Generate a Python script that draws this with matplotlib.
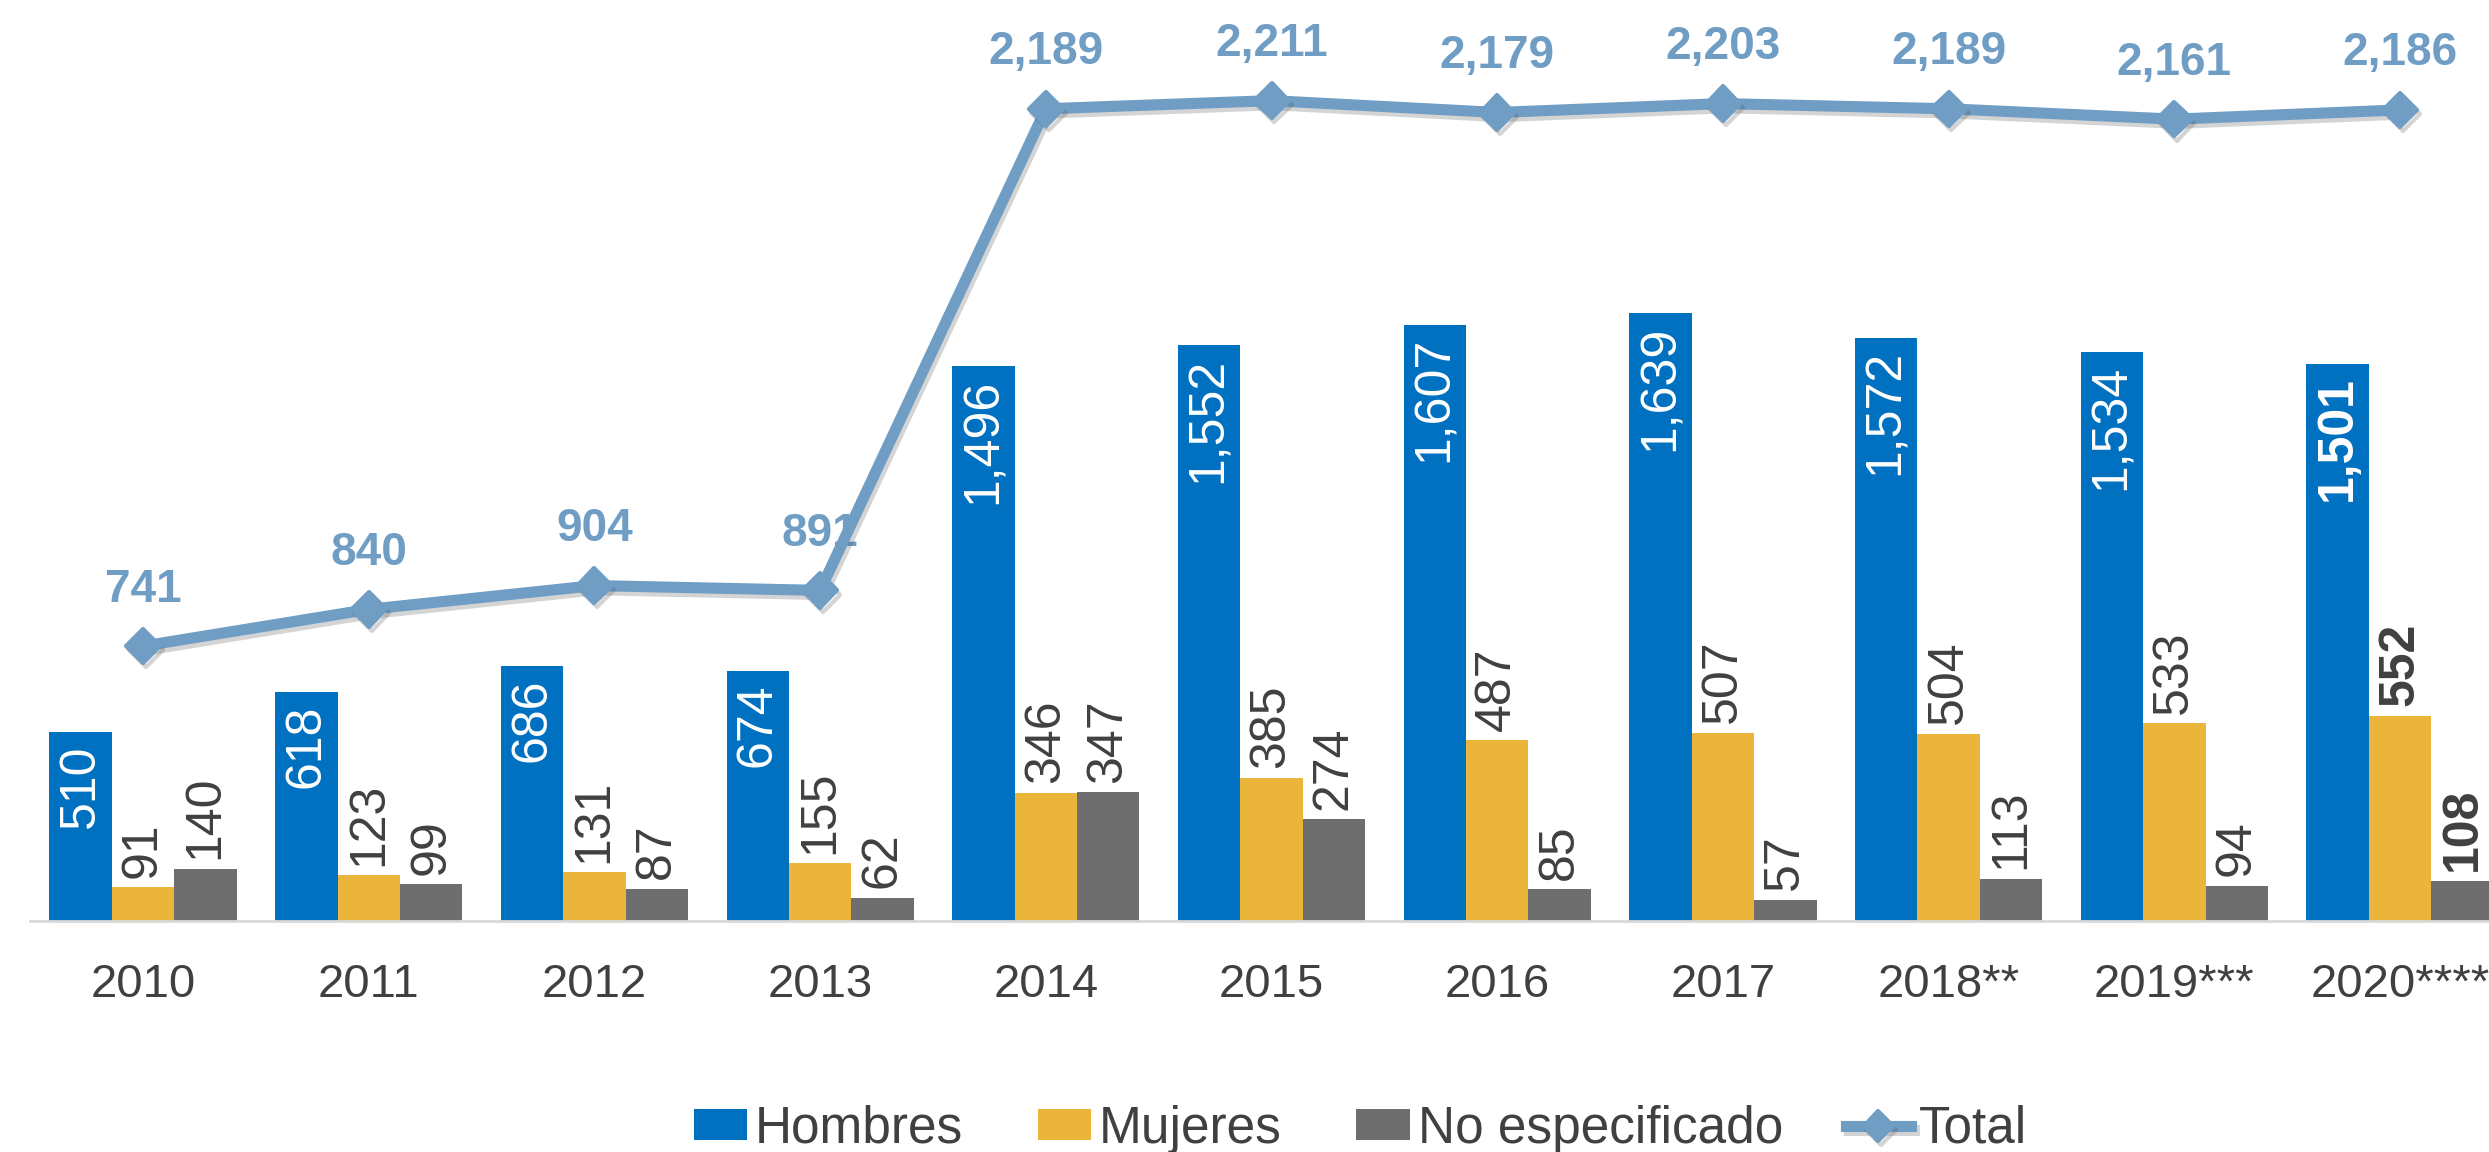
import matplotlib
matplotlib.use('Agg')
import matplotlib.pyplot as plt
import matplotlib.patheffects as pe
from matplotlib.legend_handler import HandlerLine2D
from matplotlib.markers import MarkerStyle
import numpy as np

plt.rcParams['font.family'] = ['Liberation Sans', 'DejaVu Sans']

years = ['2010', '2011', '2012', '2013', '2014', '2015', '2016', '2017',
         '2018**', '2019***', '2020****']
hombres = [510, 618, 686, 674, 1496, 1552, 1607, 1639, 1572, 1534, 1501]
mujeres = [91, 123, 131, 155, 346, 385, 487, 507, 504, 533, 552]
no_esp = [140, 99, 87, 62, 347, 274, 85, 57, 113, 94, 108]
total = [741, 840, 904, 891, 2189, 2211, 2179, 2203, 2189, 2161, 2186]
series_names = ['Hombres', 'Mujeres', 'No especificado', 'Total']

C_BLUE = '#0070C0'
C_YEL = '#EBB43A'
C_GRAY = '#6E6E6E'
C_LINE = '#6F9DC4'
C_TXT = '#404040'

W, H = 2489, 1152
fig = plt.figure(figsize=(W / 100, H / 100), dpi=100)
ax = fig.add_axes([30.2 / W, 231 / H, 2482.7 / W, 890.5 / H])

x = np.arange(len(years))
bw = 0.2765
b1 = ax.bar(x - bw, hombres, bw, color=C_BLUE)
b2 = ax.bar(x, mujeres, bw, color=C_YEL)
b3 = ax.bar(x + bw, no_esp, bw, color=C_GRAY)
shadow = [pe.SimpleLineShadow(offset=(2, -3), shadow_color='#555555', alpha=0.25),
          pe.Normal()]
diamond = MarkerStyle('D', joinstyle='round')
line, = ax.plot(x, total, color=C_LINE, lw=8, marker=diamond, ms=17.5,
                mfc=C_LINE, mec=C_LINE, mew=3, path_effects=shadow,
                solid_joinstyle='round', zorder=5)

ax.set_xlim(-0.5, 10.5)
ax.set_ylim(0, 2400)
for s in ['left', 'right', 'top']:
    ax.spines[s].set_visible(False)
ax.spines['bottom'].set_color('#D9D9D9')
ax.spines['bottom'].set_linewidth(2)
ax.set_yticks([])
ax.set_xticks(x)
ax.set_xticklabels(years, fontsize=34, color=C_TXT)
ax.tick_params(axis='x', length=0, pad=30)

last = len(years) - 1
for i in range(len(years)):
    fw = 'bold' if i == last else 'normal'
    ax.annotate(f'{hombres[i]:,}', (x[i] - bw, hombres[i]), xytext=(0, -9),
                textcoords='offset points', rotation=90, ha='center', va='top',
                color='white', fontsize=36, fontweight=fw)
    ax.annotate(f'{mujeres[i]:,}', (x[i], mujeres[i]), xytext=(0, 7),
                textcoords='offset points', rotation=90, ha='center', va='bottom',
                color=C_TXT, fontsize=36, fontweight=fw, annotation_clip=False)
    ax.annotate(f'{no_esp[i]:,}', (x[i] + bw, no_esp[i]), xytext=(0, 7),
                textcoords='offset points', rotation=90, ha='center', va='bottom',
                color=C_TXT, fontsize=36, fontweight=fw, annotation_clip=False)
    ax.annotate(f'{total[i]:,}', (x[i], total[i]), xytext=(0, 32),
                textcoords='offset points', ha='center', va='baseline',
                color=C_LINE, fontsize=33, fontweight='bold', annotation_clip=False)


class WideLine(HandlerLine2D):
    def create_artists(self, legend, orig_handle, xdescent, ydescent, width,
                       height, fontsize, trans):
        extra = 0.22 * fontsize
        return super().create_artists(legend, orig_handle, xdescent + extra,
                                      ydescent, width + extra, height,
                                      fontsize, trans)


handles = [b1, b2, b3, line]
leg = fig.legend(handles, series_names, loc='lower left',
                 bbox_to_anchor=(694 / W, -0.0015),
                 ncol=4, frameon=False, fontsize=37, handlelength=1.04,
                 handleheight=0.54, handletextpad=0.15, columnspacing=1.45,
                 borderpad=0, borderaxespad=0, labelcolor=C_TXT,
                 handler_map={line: WideLine(numpoints=1)})
leg.legend_handles[3].set_markersize(15)

fig.savefig('out.png', dpi=100)
